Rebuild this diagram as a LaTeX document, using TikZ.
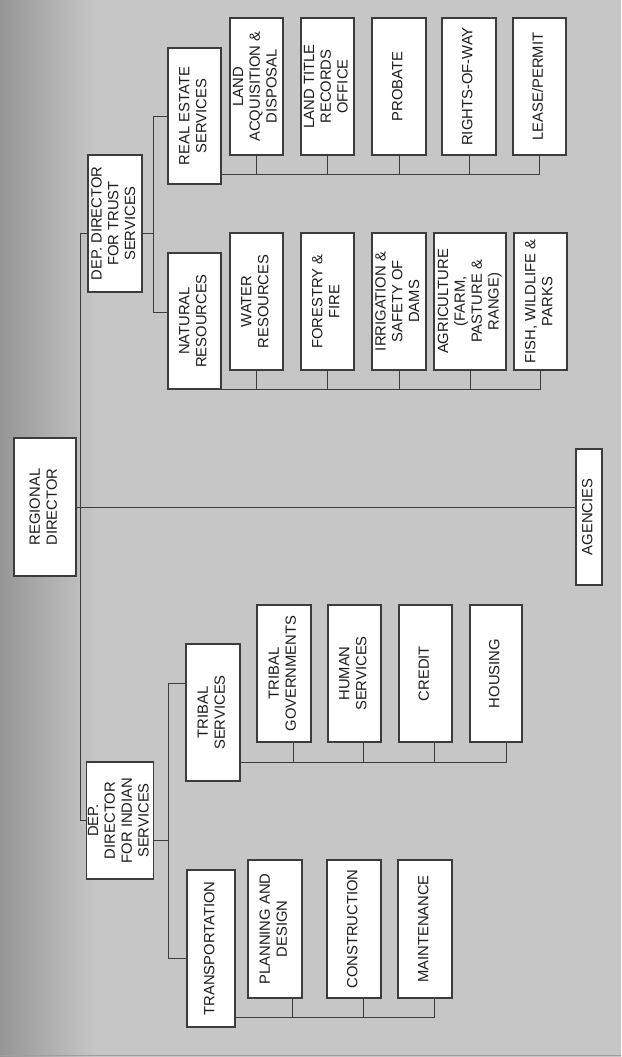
\documentclass[tikz,border=0pt]{standalone}
\usepackage{fontspec}
\setmainfont{Liberation Sans}
\usepackage{graphicx}
\newcommand\vtext[1]{\rotatebox{90}{\begin{tabular}{@{}c@{}}#1\end{tabular}}}
\definecolor{bggray}{RGB}{198,198,198}
\definecolor{bgdark}{RGB}{150,150,150}
\definecolor{linegray}{RGB}{60,60,60}
\definecolor{textblack}{RGB}{28,28,28}
\begin{document}
\begin{tikzpicture}[x=1pt,y=-1pt,
  box/.style={draw=linegray, fill=white, line width=1.1pt, inner sep=0pt, text=textblack,
    font=\fontsize{14.8}{16.8}\selectfont},
  conn/.style={draw=linegray, line width=1pt}]
\useasboundingbox (0,0) rectangle (621,1057);
% background
\fill[bggray] (0,0) rectangle (621,1057);
\shade[left color=bgdark, right color=bggray] (0,0) rectangle (95,1057);
\draw[gray!75, line width=1.6pt] (0,1055.5) -- (621,1055.5);

% top level
\node[box, minimum width=62pt, minimum height=138pt] (rd) at (45,507) {\vtext{REGIONAL\\DIRECTOR}};
\node[box, minimum width=26pt, minimum height=136pt] (ag) at (589,517) {\vtext{AGENCIES}};
\node[box, minimum width=54pt, minimum height=137pt] (trust) at (115,223.5) {\vtext{DEP. DIRECTOR\\FOR TRUST\\SERVICES}};
\node[box, minimum width=62pt, minimum height=117pt] (indian) at (120,820.5) {\vtext{DEP.\\DIRECTOR\\FOR INDIAN\\SERVICES}};

% trust branch
\node[box, minimum width=53pt, minimum height=136pt] (re) at (194.5,116) {\vtext{REAL ESTATE\\SERVICES}};
\node[box, minimum width=53pt, minimum height=136pt] (nr) at (194.5,321) {\vtext{NATURAL\\RESOURCES}};

\node[box, minimum width=53pt, minimum height=137pt] (landacq) at (256.5,86.5) {\vtext{LAND\\ACQUISITION \&\\DISPOSAL}};
\node[box, minimum width=53pt, minimum height=137pt] (landtitle) at (327.5,86.5) {\vtext{LAND TITLE\\RECORDS\\OFFICE}};
\node[box, minimum width=54pt, minimum height=137pt] (probate) at (399,86.5) {\vtext{PROBATE}};
\node[box, minimum width=54pt, minimum height=137pt] (row) at (469,86.5) {\vtext{RIGHTS-OF-WAY}};
\node[box, minimum width=53pt, minimum height=137pt] (lease) at (539.5,86.5) {\vtext{LEASE/PERMIT}};

\node[box, minimum width=53pt, minimum height=137pt] (water) at (256.5,301.5) {\vtext{WATER\\RESOURCES}};
\node[box, minimum width=53pt, minimum height=137pt] (forestry) at (327.5,301.5) {\vtext{FORESTRY \&\\FIRE}};
\node[box, minimum width=54pt, minimum height=137pt] (irrig) at (399,301.5) {\vtext{IRRIGATION \&\\SAFETY OF\\DAMS}};
\node[box, minimum width=72pt, minimum height=137pt] (agri) at (470,301.5) {\vtext{AGRICULTURE\\(FARM,\\PASTURE \&\\RANGE)}};
\node[box, minimum width=53pt, minimum height=137pt] (fish) at (540.5,301.5) {\vtext{FISH, WILDLIFE \&\\PARKS}};

% indian branch
\node[box, minimum width=54pt, minimum height=137pt] (tribal) at (213,712.5) {\vtext{TRIBAL\\SERVICES}};
\node[box, minimum width=48pt, minimum height=157pt] (transp) at (211,948.5) {\vtext{TRANSPORTATION}};

\node[box, minimum width=54pt, minimum height=137pt] (tgov) at (284,673.5) {\vtext{TRIBAL\\GOVERNMENTS}};
\node[box, minimum width=53pt, minimum height=137pt] (human) at (354.5,673.5) {\vtext{HUMAN\\SERVICES}};
\node[box, minimum width=53pt, minimum height=137pt] (credit) at (425.5,673.5) {\vtext{CREDIT}};
\node[box, minimum width=52pt, minimum height=137pt] (housing) at (496,673.5) {\vtext{HOUSING}};

\node[box, minimum width=54pt, minimum height=138pt] (planning) at (275,929) {\vtext{PLANNING AND\\DESIGN}};
\node[box, minimum width=54pt, minimum height=138pt] (constr) at (354,929) {\vtext{CONSTRUCTION}};
\node[box, minimum width=54pt, minimum height=138pt] (maint) at (425,929) {\vtext{MAINTENANCE}};

% junction coordinates
\coordinate (ttop) at (80,233);
\coordinate (tbot) at (80,820);
\coordinate (tsplit) at (153,233);
\coordinate (isplit) at (168,840);
\coordinate (nrjoin) at (153,312);
\coordinate (tribjoin) at (168,683);
\coordinate (transjoin) at (168,958);
\coordinate (rebus) at (0,174);
\coordinate (nrbus) at (0,389);
\coordinate (tbus) at (0,762);
\coordinate (pbus) at (0,1017);

% trunk
\draw[conn] (trust.west |- ttop) -- (ttop) -- (tbot) -- (indian.west |- tbot);
\draw[conn] (rd.east) -- (rd.east -| ag.west);

% trust split
\draw[conn] (trust.east |- tsplit) -- (tsplit);
\draw[conn] (re.west) -- (re.west -| tsplit) -- (nrjoin) -- (nr.west |- nrjoin);

% indian split
\draw[conn] (indian.east |- isplit) -- (isplit);
\draw[conn] (tribal.west |- tribjoin) -- (tribjoin) -- (transjoin) -- (transp.west |- transjoin);

% real estate bus
\draw[conn] (re.east |- rebus) -- (lease.south |- rebus) -- (lease.south);
\foreach \n in {landacq,landtitle,probate,row}
  \draw[conn] (\n.south) -- (\n.south |- rebus);

% natural resources bus
\draw[conn] (nr.east |- nrbus) -- (fish.south |- nrbus) -- (fish.south);
\foreach \n in {water,forestry,irrig,agri}
  \draw[conn] (\n.south) -- (\n.south |- nrbus);

% tribal bus
\draw[conn] (tribal.east |- tbus) -- ([xshift=10pt]housing.south |- tbus) -- ([xshift=10pt]housing.south);
\foreach \n in {tgov,human,credit}
  \draw[conn] ([xshift=9pt]\n.south) -- ([xshift=9pt]\n.south |- tbus);

% transportation bus
\draw[conn] (transp.east |- pbus) -- ([xshift=9pt]maint.south |- pbus) -- ([xshift=9pt]maint.south);
\draw[conn] ([xshift=9pt]constr.south) -- ([xshift=9pt]constr.south |- pbus);
\draw[conn] ([xshift=17pt]planning.south) -- ([xshift=17pt]planning.south |- pbus);
\end{tikzpicture}
\end{document}
